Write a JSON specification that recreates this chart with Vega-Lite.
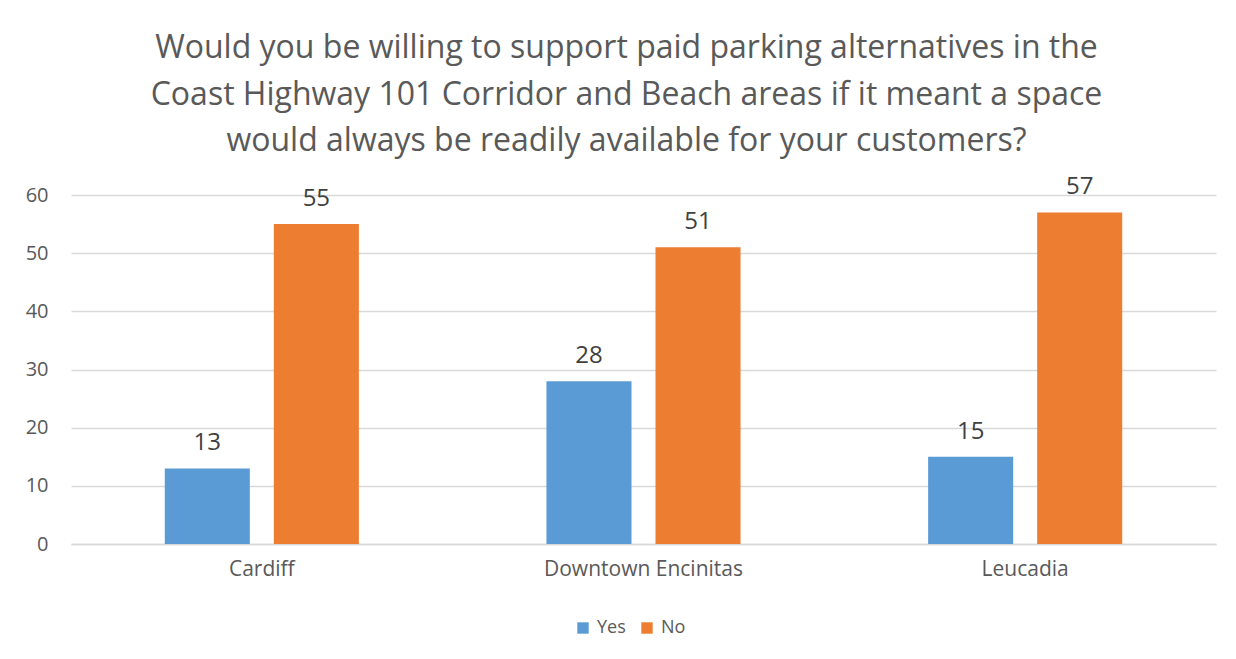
{
  "$schema": "https://vega.github.io/schema/vega-lite/v6.json",
  "width": 1145,
  "height": 349,
  "autosize": {"type": "none"},
  "padding": {"left": 71, "top": 195, "right": 20, "bottom": 115},
  "background": "white",
  "title": {
    "text": ["Would you be willing to support paid parking alternatives in the", "Coast Highway 101 Corridor and Beach areas if it meant a space", "would always be readily available for your customers?"],
    "font": "Open Sans",
    "fontSize": 32,
    "fontWeight": "normal",
    "color": "#595959",
    "lineHeight": 46.5,
    "anchor": "middle",
    "dx": -17,
    "dy": 53,
    "baseline": "alphabetic",
    "offset": 45
  },
  "data": {
    "values": [
      {"area": "Cardiff", "answer": "Yes", "count": 13},
      {"area": "Cardiff", "answer": "No", "count": 55},
      {"area": "Downtown Encinitas", "answer": "Yes", "count": 28},
      {"area": "Downtown Encinitas", "answer": "No", "count": 51},
      {"area": "Leucadia", "answer": "Yes", "count": 15},
      {"area": "Leucadia", "answer": "No", "count": 57}
    ]
  },
  "encoding": {
    "x": {
      "field": "area", "type": "nominal", "sort": null,
      "scale": {"paddingInner": 0, "paddingOuter": 0},
      "axis": {
        "title": null, "labelAngle": 0, "labelFont": "Open Sans", "labelFontSize": 21,
        "labelColor": "#595959", "domainColor": "#d9d9d9", "domainWidth": 1.5,
        "ticks": false, "labelPadding": 14, "grid": false, "labelLimit": 400
      }
    },
    "xOffset": {
      "field": "answer", "type": "nominal", "sort": ["Yes", "No"],
      "scale": {"paddingInner": 0.22, "paddingOuter": 0.86}
    },
    "y": {
      "field": "count", "type": "quantitative",
      "scale": {"domain": [0, 60], "nice": false},
      "axis": {
        "title": null, "values": [0, 10, 20, 30, 40, 50, 60], "labelFont": "Open Sans",
        "labelFontSize": 20, "labelColor": "#595959", "domain": false, "ticks": false,
        "labelPadding": 23, "gridColor": "#d9d9d9", "gridWidth": 1.5
      }
    }
  },
  "layer": [
    {
      "mark": {"type": "bar"},
      "encoding": {
        "color": {
          "field": "answer", "type": "nominal", "sort": ["Yes", "No"],
          "scale": {"domain": ["Yes", "No"], "range": ["#5B9BD5", "#ED7D31"]},
          "legend": {
            "title": null, "orient": "none", "direction": "horizontal",
            "legendX": 503, "legendY": 424, "symbolType": "square", "symbolSize": 130,
            "symbolStrokeWidth": 0, "labelFont": "Open Sans", "labelFontSize": 18,
            "labelColor": "#595959", "columnPadding": 12, "labelOffset": 5
          }
        }
      }
    },
    {
      "mark": {"type": "text", "baseline": "alphabetic", "dy": -18, "font": "Open Sans", "fontSize": 24, "color": "#404040"},
      "encoding": {"text": {"field": "count", "type": "quantitative"}}
    }
  ],
  "config": {"view": {"stroke": null}}
}
